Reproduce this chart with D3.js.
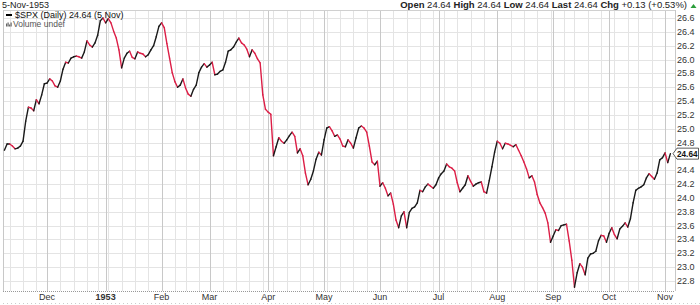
<!DOCTYPE html>
<html>
<head>
<meta charset="utf-8">
<script src="https://cdn.jsdelivr.net/npm/d3@7"></script>
<style>
  body { margin: 0; background: #fff; }
  svg { display: block; font-family: Arial, 'Liberation Sans', sans-serif; }
</style>
</head>
<body>
<svg id="chart"></svg>
<script>
// daily closes of $SPX, 6-Nov-1952 .. 5-Nov-1953
const closes = [
  24.69, 24.78, 24.78, 24.75, 24.71, 24.72, 24.75, 24.82, 25.11, 25.31,
  25.30, 25.26, 25.42, 25.36, 25.49, 25.65, 25.66, 25.72, 25.69, 25.62,
  25.60, 25.69, 25.86, 25.96, 25.95, 26.02, 26.04, 26.05, 26.04, 26.02,
  26.11, 26.27, 26.21, 26.18, 26.24, 26.35, 26.56, 26.60, 26.53, 26.59,
  26.53, 26.41, 26.31, 26.14, 25.88, 26.02, 26.09, 26.12, 26.03, 26.01,
  26.11, 26.09, 26.08, 26.04, 26.07, 26.14, 26.20, 26.33, 26.48, 26.53,
  26.46, 26.23, 26.02, 25.81, 25.68, 25.60, 25.63, 25.72, 25.59, 25.50,
  25.47, 25.57, 25.63, 25.81, 25.89, 25.94, 25.89, 25.92, 25.96, 25.78,
  25.79, 25.83, 25.85, 25.96, 26.12, 26.14, 26.18, 26.25, 26.31, 26.24,
  26.21, 26.15, 26.04, 26.14, 26.09, 26.01, 25.95, 25.49, 25.28, 25.24,
  25.21, 24.61, 24.74, 24.87, 24.82, 24.79, 24.84, 24.90, 24.95, 24.89,
  24.65, 24.71, 24.61, 24.36, 24.19, 24.27, 24.39, 24.56, 24.66, 24.62,
  24.84, 25.01, 25.03, 24.97, 24.89, 24.91, 24.85, 24.75, 24.74, 24.84,
  24.79, 24.72, 24.87, 25.01, 25.04, 25.01, 24.95, 24.75, 24.52, 24.48,
  24.53, 24.17, 24.22, 24.14, 24.03, 24.07, 23.91, 23.68, 23.57, 23.74,
  23.80, 23.57, 23.79, 23.85, 23.87, 23.93, 24.11, 24.09, 24.16, 24.20,
  24.17, 24.14, 24.19, 24.29, 24.35, 24.39, 24.49, 24.45, 24.43, 24.39,
  24.22, 24.09, 24.14, 24.19, 24.32, 24.24, 24.17, 24.20, 24.22, 24.23,
  24.09, 24.07, 24.25, 24.45, 24.66, 24.82, 24.79, 24.71, 24.79, 24.78,
  24.76, 24.74, 24.77, 24.69, 24.61, 24.52, 24.42, 24.29, 24.32, 24.23,
  24.05, 23.93, 23.86, 23.78, 23.64, 23.36, 23.45, 23.54, 23.53, 23.60,
  23.61, 23.62, 23.38, 23.10, 22.71, 22.92, 23.05, 23.00, 22.89, 23.13,
  23.19, 23.20, 23.23, 23.38, 23.46, 23.45, 23.36, 23.49, 23.57, 23.47,
  23.41, 23.55, 23.59, 23.64, 23.58, 23.70, 23.93, 24.11, 24.14, 24.16,
  24.19, 24.29, 24.35, 24.31, 24.27, 24.36, 24.55, 24.58, 24.65, 24.51, 24.64
];

const firstDay = '1952-11-06';
const lastDay = '1953-11-05';
const holidays = ['1952-11-27', '1952-12-25', '1953-01-01', '1953-02-12', '1953-02-23',
  '1953-04-03', '1953-07-03', '1953-09-07', '1953-10-12', '1953-11-03'];

const yTicks = [22.8, 23.0, 23.2, 23.4, 23.6, 23.8, 24.0, 24.2, 24.4, 24.6,
  24.8, 25.0, 25.2, 25.4, 25.6, 25.8, 26.0, 26.2, 26.4, 26.6];
const monthLabels = ['Dec', '1953', 'Feb', 'Mar', 'Apr', 'May', 'Jun', 'Jul', 'Aug', 'Sep', 'Oct', 'Nov'];

const header = [
  ['Open', '24.64'], ['High', '24.64'], ['Low', '24.64'], ['Last', '24.64'], ['Chg', '+0.13 (+0.53%)']
];

const width = 700, height = 305;
const plot = { left: 3, right: 675, top: 10, bottom: 291 };

const parse = d3.timeParse('%Y-%m-%d');
const fmt = d3.timeFormat('%Y-%m-%d');
const holidaySet = new Set(holidays);
const days = d3.timeDay.range(parse(firstDay), d3.timeDay.offset(parse(lastDay), 1))
  .filter(d => d.getDay() !== 0 && d.getDay() !== 6 && !holidaySet.has(fmt(d)));

const data = closes.map((v, i) => ({ i, date: days[i], close: v }));

const svg = d3.select('#chart').attr('width', width).attr('height', height);

const x = d3.scaleLinear().domain([0, closes.length - 1]).range([4.4, 670.4]);
const y = d3.scaleLinear().domain([22.8, 26.6]).range([281, 18]);

// grid
const grid = svg.append('g');
grid.selectAll('.hgrid')
  .data(yTicks)
  .enter()
  .append('line')
  .attr('x1', plot.left).attr('x2', plot.right)
  .attr('y1', d => Math.round(y(d)) + 0.5).attr('y2', d => Math.round(y(d)) + 0.5)
  .attr('stroke', '#e4e4e4');

const weekStarts = data.filter((d, k) => k > 0 &&
  d3.timeMonday.floor(d.date) > d3.timeMonday.floor(data[k - 1].date));
const monthStarts = data.filter((d, k) => k > 0 && d.date.getMonth() !== data[k - 1].date.getMonth());

grid.selectAll('.wgrid')
  .data(weekStarts)
  .enter()
  .append('line')
  .attr('x1', d => Math.round(x(d.i)) + 0.5).attr('x2', d => Math.round(x(d.i)) + 0.5)
  .attr('y1', plot.top).attr('y2', plot.bottom)
  .attr('stroke', '#e4e4e4');

grid.selectAll('.mgrid')
  .data(monthStarts)
  .enter()
  .append('line')
  .attr('x1', d => Math.round(x(d.i)) + 0.5).attr('x2', d => Math.round(x(d.i)) + 0.5)
  .attr('y1', plot.top).attr('y2', plot.bottom)
  .attr('stroke', '#c8c8c8');

// frame
svg.append('line')
  .attr('x1', plot.left).attr('x2', plot.right)
  .attr('y1', plot.top + 0.5).attr('y2', plot.top + 0.5)
  .attr('stroke', '#d0d0d0');
svg.append('line')
  .attr('x1', plot.left + 0.5).attr('x2', plot.left + 0.5)
  .attr('y1', plot.top).attr('y2', plot.bottom)
  .attr('stroke', '#c8c8c8');
svg.append('line')
  .attr('x1', plot.right + 0.5).attr('x2', plot.right + 0.5)
  .attr('y1', plot.top).attr('y2', plot.bottom)
  .attr('stroke', '#c8c8c8');
svg.append('line')
  .attr('x1', plot.left).attr('x2', plot.right)
  .attr('y1', plot.bottom + 0.5).attr('y2', plot.bottom + 0.5)
  .attr('stroke', '#999').attr('stroke-dasharray', '1,1');
svg.append('line')
  .attr('x1', plot.left).attr('x2', width)
  .attr('y1', 303.5).attr('y2', 303.5)
  .attr('stroke', '#ccc').attr('stroke-dasharray', '1,3');

// price line, black on up days and red on down days
const line = d3.line().x(d => x(d.i)).y(d => y(d.close));
const pairs = d3.pairs(data);
svg.append('g')
  .selectAll('path')
  .data(pairs)
  .enter()
  .append('path')
  .attr('d', d => line(d))
  .attr('fill', 'none')
  .attr('stroke', d => d[1].close >= d[0].close ? '#1a1a1a' : '#dc1e46')
  .attr('stroke-width', 1.4)
  .attr('stroke-linecap', 'round');

// y axis labels (the one hidden under the last-value tag is skipped)
const last = data[data.length - 1];
const ly = y(last.close);
svg.append('g')
  .selectAll('text')
  .data(yTicks.filter(t => Math.abs(y(t) - ly) > 7))
  .enter()
  .append('text')
  .attr('x', 677)
  .attr('y', d => y(d) + 3)
  .attr('font-size', '9px')
  .attr('fill', '#333')
  .text(d => d.toFixed(1));

// x axis labels
svg.append('g')
  .selectAll('text')
  .data(monthStarts)
  .enter()
  .append('text')
  .attr('x', d => x(d.i))
  .attr('y', 300)
  .attr('text-anchor', 'middle')
  .attr('font-size', '9px')
  .attr('font-weight', (d, k) => monthLabels[k] === '1953' ? 'bold' : 'normal')
  .attr('fill', '#333')
  .text((d, k) => monthLabels[k]);

// last value tag
svg.append('path')
  .attr('d', `M${plot.right - 2},${ly} L${plot.right + 2},${ly - 5.5} L698.5,${ly - 5.5} L698.5,${ly + 5.5} L${plot.right + 2},${ly + 5.5} Z`)
  .attr('fill', '#fff')
  .attr('stroke', '#333')
  .attr('stroke-width', 0.8);
svg.append('text')
  .attr('x', 677)
  .attr('y', ly + 3.3)
  .attr('font-size', '9px')
  .attr('font-weight', 'bold')
  .attr('fill', '#111')
  .attr('textLength', 20.5)
  .attr('lengthAdjust', 'spacingAndGlyphs')
  .text(last.close.toFixed(2));

// title / header
svg.append('text')
  .attr('x', 2).attr('y', 8)
  .attr('font-size', '9px')
  .attr('fill', '#222')
  .text('5-Nov-1953');

const head = svg.append('text')
  .attr('x', 687).attr('y', 8)
  .attr('text-anchor', 'end')
  .attr('font-size', '9.5px')
  .attr('fill', '#222');
header.forEach(([k, v], j) => {
  head.append('tspan').attr('font-weight', 'bold').text((j ? ' ' : '') + k);
  head.append('tspan').text(' ' + v);
});
svg.append('path')
  .attr('d', 'M690.5,8 L693.5,4 L696.5,8 Z')
  .attr('fill', '#2a9d3a');

// legend
svg.append('line')
  .attr('x1', 6).attr('x2', 12)
  .attr('y1', 15).attr('y2', 15)
  .attr('stroke', '#000').attr('stroke-width', 2);
svg.append('text')
  .attr('x', 15).attr('y', 17.5)
  .attr('font-size', '9px')
  .attr('fill', '#111')
  .text('$SPX (Daily) 24.64 (5 Nov)');
svg.append('g')
  .selectAll('rect')
  .data([3, 4, 2, 4])
  .enter()
  .append('rect')
  .attr('x', (d, k) => 6 + k * 1.5)
  .attr('y', d => 26.5 - d)
  .attr('width', 1.2)
  .attr('height', d => d)
  .attr('fill', '#666');
svg.append('text')
  .attr('x', 13).attr('y', 26.5)
  .attr('font-size', '8.5px')
  .attr('fill', '#555')
  .text('Volume undef');
</script>
</body>
</html>
